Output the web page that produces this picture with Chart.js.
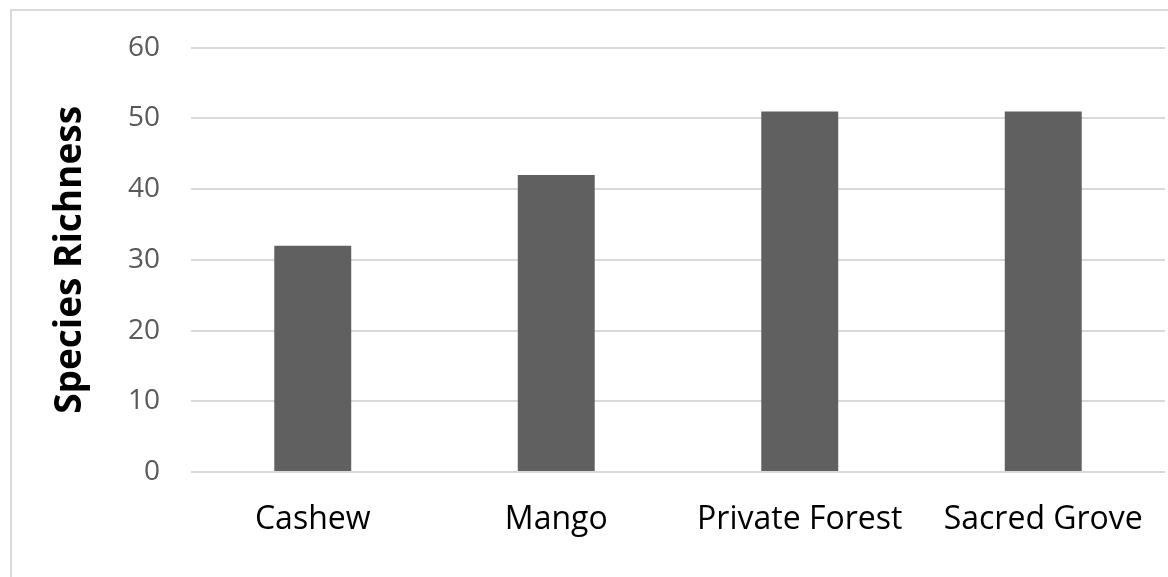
<!DOCTYPE html>
<html>
<head>
<meta charset="utf-8">
<title>Species Richness</title>
<script src="https://cdn.jsdelivr.net/npm/chart.js@4/dist/chart.umd.min.js"></script>
<style>
  html, body { margin: 0; padding: 0; background: #fff; }
  #wrap { position: relative; width: 1168px; height: 577px; }
</style>
</head>
<body>
<div id="wrap"><canvas id="chart"></canvas></div>
<script>
// land-use categories and the species count found in each
const categories = ['Cashew', 'Mango', 'Private Forest', 'Sacred Grove'];
const richness = [32, 42, 51, 51];
const yTicks = [0, 10, 20, 30, 40, 50, 60];

// light frame along the left and top edges of the chart
const framePlugin = {
  id: 'frame',
  beforeDraw(chart) {
    const ctx = chart.ctx;
    ctx.save();
    ctx.strokeStyle = '#d9d9d9';
    ctx.lineWidth = 2;
    ctx.beginPath();
    ctx.moveTo(11, chart.height);
    ctx.lineTo(11, 10);
    ctx.lineTo(chart.width, 10);
    ctx.stroke();
    ctx.restore();
  }
};

const ctx = document.getElementById('chart').getContext('2d');
new Chart(ctx, {
  type: 'bar',
  data: {
    labels: categories,
    datasets: [{
      label: 'Species Richness',
      data: richness,
      backgroundColor: '#606060',
      borderWidth: 0,
      categoryPercentage: 1,
      barPercentage: 0.316
    }]
  },
  options: {
    responsive: true,
    maintainAspectRatio: false,
    animation: false,
    layout: { padding: { top: 47, right: 3, bottom: 0, left: 0 } },
    plugins: {
      legend: { display: false },
      tooltip: { enabled: false }
    },
    scales: {
      x: {
        grid: { display: false },
        border: { display: false },
        ticks: {
          color: '#000',
          font: { family: 'Open Sans', size: 32 },
          padding: 21,
          maxRotation: 0,
          autoSkip: false
        },
        afterFit(scale) { scale.height = 105; }
      },
      y: {
        min: 0,
        max: 60,
        afterBuildTicks(scale) { scale.ticks = yTicks.map(v => ({ value: v })); },
        grid: { color: '#d9d9d9', lineWidth: 2, drawTicks: false },
        border: { display: false },
        ticks: {
          color: '#595959',
          font: { family: 'Open Sans', size: 28 },
          padding: 31
        },
        title: {
          display: true,
          text: 'Species Richness',
          color: '#000',
          font: { family: 'Open Sans', size: 37, weight: 'bold' },
          padding: { top: 48, bottom: 0 }
        },
        afterFit(scale) { scale.width = 191; }
      }
    }
  },
  plugins: [framePlugin]
});
</script>
</body>
</html>
